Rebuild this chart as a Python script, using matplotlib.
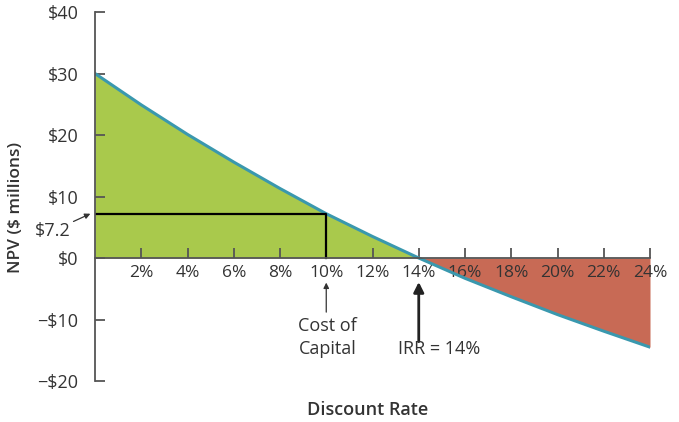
import matplotlib.pyplot as plt

plt.rcParams['font.family'] = ['Open Sans', 'DejaVu Sans']

# NPV profile: discount rate (%) vs NPV ($ millions)
rates = [0, 2, 4, 6, 8, 10, 12, 14, 16, 18, 20, 22, 24]
npv = [30.0, 24.9, 20.1, 15.6, 11.3, 7.2, 3.5, 0.0, -3.3, -6.3, -9.2, -11.9, -14.5]

cost_of_capital = 10
npv_at_cost = 7.2
irr = 14

y_ticks = [-20, -10, 0, 10, 20, 30, 40]
y_labels = ['\u2212$20', '\u2212$10', '$0', '$10', '$20', '$30', '$40']
x_ticks = [2, 4, 6, 8, 10, 12, 14, 16, 18, 20, 22, 24]
x_labels = [f'{t}%' for t in x_ticks]

GREEN = '#a9c94c'
RED = '#c86a55'
LINE = '#3a98ae'
TEXT = '#333333'
AXIS = '#555555'

fig = plt.figure(figsize=(6.79, 4.22), dpi=100)
ax = fig.add_axes([95 / 679, 1 - 381 / 422, 555 / 679, 369 / 422])

pos = [v >= 0 for v in npv]
neg = [v <= 0 for v in npv]
ax.fill_between(rates, npv, 0, where=pos, color=GREEN, linewidth=0, zorder=1)
ax.fill_between(rates, npv, 0, where=neg, color=RED, linewidth=0, zorder=1)
ax.plot(rates, npv, color=LINE, lw=2.2, solid_capstyle='round', zorder=3)

# NPV at the cost of capital
ax.plot([0, cost_of_capital, cost_of_capital], [npv_at_cost, npv_at_cost, 0],
        color='black', lw=1.6, zorder=3)

ax.set_xlim(0, 24)
ax.set_ylim(-20, 40)

for s in ['top', 'right']:
    ax.spines[s].set_visible(False)
ax.spines['bottom'].set_position(('data', 0))
for s in ['left', 'bottom']:
    ax.spines[s].set_color(AXIS)
    ax.spines[s].set_linewidth(1.3)
    ax.spines[s].set_zorder(4)

ax.set_yticks(y_ticks)
ax.set_yticklabels(y_labels)
ax.set_xticks(x_ticks)
ax.set_xticklabels(x_labels)
ax.tick_params(axis='y', direction='in', length=7, width=1.3, color=AXIS,
               labelsize=13, labelcolor=TEXT, pad=12)
ax.tick_params(axis='x', direction='in', length=7, width=1.3, color=AXIS,
               labelsize=12.5, labelcolor=TEXT, pad=5)
for lbl in ax.get_xticklabels():
    lbl.set_zorder(5)

ax.set_ylabel('NPV ($ millions)', fontsize=12.5, color=TEXT, fontweight='semibold')
ax.yaxis.set_label_coords(-0.128, 0.47)
fig.text(368 / 679, 1 - 410 / 422, 'Discount Rate', fontsize=13, color=TEXT,
         ha='center', va='center', fontweight='semibold')

# $7.2 callout
ax.annotate('$7.2', xy=(-0.2, npv_at_cost), xytext=(-1.05, 4.4),
            ha='right', va='center', fontsize=13, color=TEXT,
            arrowprops=dict(arrowstyle='-|>', color=TEXT, lw=0.9,
                            mutation_scale=8, shrinkA=0, shrinkB=0),
            annotation_clip=False)

# Cost of capital arrow
ax.annotate('', xy=(cost_of_capital, -4.0), xytext=(cost_of_capital, -8.8),
            arrowprops=dict(arrowstyle='-|>', color=TEXT, lw=0.9,
                            mutation_scale=8, shrinkA=0, shrinkB=0))
ax.text(cost_of_capital + 0.05, -11.0, 'Cost of', ha='center', va='center',
        fontsize=13, color=TEXT)
ax.text(cost_of_capital + 0.05, -14.8, 'Capital', ha='center', va='center',
        fontsize=13, color=TEXT)

# IRR arrow
ax.annotate('', xy=(irr, -3.9), xytext=(irr, -13.6),
            arrowprops=dict(arrowstyle='-|>', color='#222222', lw=2.0,
                            mutation_scale=15, shrinkA=0, shrinkB=0))
ax.text(13.1, -14.8, f'IRR = {irr}%', ha='left', va='center',
        fontsize=13, color=TEXT)

fig.savefig('out.png', dpi=100)
